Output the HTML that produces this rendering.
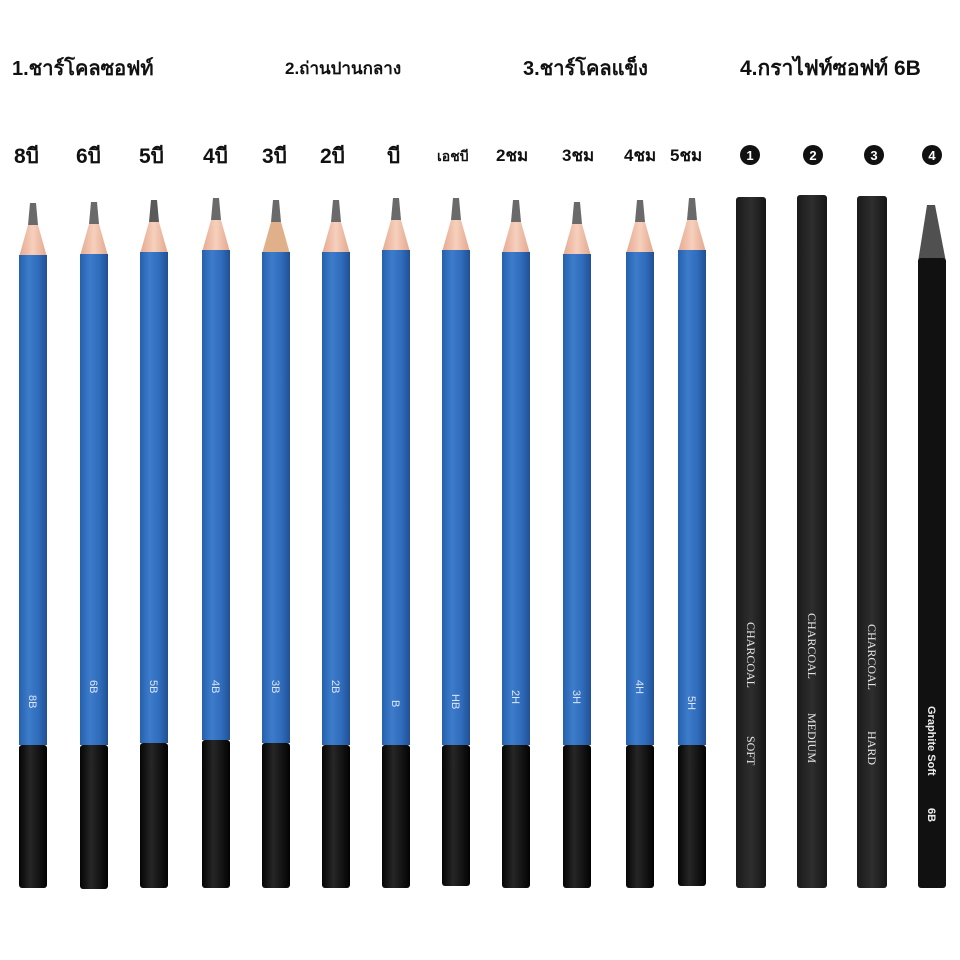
<!DOCTYPE html>
<html><head><meta charset="utf-8"><style>
html,body{margin:0;padding:0;background:#fff;}
svg{display:block}
.h{font-family:"Liberation Sans","Noto Sans CJK SC",sans-serif;font-weight:bold;fill:#111}
.lb{fill:#dde6f6}
</style></head><body>
<svg width="960" height="960" viewBox="0 0 960 960" xmlns="http://www.w3.org/2000/svg">
<defs>
<linearGradient id="blue" x1="0" x2="1" y1="0" y2="0">
<stop offset="0" stop-color="#2560ad"/><stop offset="0.35" stop-color="#3d7ccb"/><stop offset="0.7" stop-color="#2f6cbb"/><stop offset="1" stop-color="#214f92"/></linearGradient>
<linearGradient id="blk" x1="0" x2="1" y1="0" y2="0">
<stop offset="0" stop-color="#050505"/><stop offset="0.4" stop-color="#262626"/><stop offset="0.7" stop-color="#151515"/><stop offset="1" stop-color="#020202"/></linearGradient>
<linearGradient id="chr" x1="0" x2="1" y1="0" y2="0">
<stop offset="0" stop-color="#1a1a1a"/><stop offset="0.5" stop-color="#2e2e2e"/><stop offset="1" stop-color="#161616"/></linearGradient>
<linearGradient id="wood" x1="0" x2="1" y1="0" y2="0">
<stop offset="0" stop-color="#e6a88f"/><stop offset="0.5" stop-color="#f6d0bd"/><stop offset="1" stop-color="#e3a68c"/></linearGradient>
</defs>
<rect width="960" height="960" fill="#fff"/>
<text class="h" x="12" y="75" font-size="20">1.ชาร์โคลซอฟท์</text>
<text class="h" x="285" y="74" font-size="17" font-weight="normal">2.ถ่านปานกลาง</text>
<text class="h" x="523" y="75" font-size="20">3.ชาร์โคลแข็ง</text>
<text class="h" x="740" y="75" font-size="21">4.กราไฟท์ซอฟท์ 6B</text>
<g class="h" font-size="21">
<text x="14" y="163">8บี</text><text x="76" y="163">6บี</text><text x="139" y="163">5บี</text>
<text x="203" y="163">4บี</text><text x="262" y="163">3บี</text><text x="320" y="163">2บี</text>
<text x="387" y="163">บี</text>
<text x="437" y="161" font-size="14">เอชบี</text>
<text x="496" y="161" font-size="17">2ชม</text><text x="562" y="161" font-size="17">3ชม</text>
<text x="624" y="161" font-size="17">4ชม</text><text x="670" y="161" font-size="17">5ชม</text>
</g>
<g fill="#111"><circle cx="750" cy="155" r="10"/><circle cx="813" cy="155" r="10"/><circle cx="874" cy="155" r="10"/><circle cx="932" cy="155" r="10"/></g>
<g font-family="Liberation Sans,sans-serif" font-weight="bold" font-size="13" fill="#fff" text-anchor="middle">
<text x="750" y="160">1</text><text x="813" y="160">2</text><text x="874" y="160">3</text><text x="932" y="160">4</text></g>

<g font-family="Liberation Sans,sans-serif" font-size="11">
<g transform="translate(19,203)"><polygon points="11,0 17,0 19,22 9,22" fill="#6a6a6a"/><polygon points="9,22 19,22 28,54 0,54" fill="url(#wood)"/><rect x="0" y="52" width="28" height="490" fill="url(#blue)"/><rect x="0" y="542" width="28" height="143" rx="3" fill="url(#blk)"/><text class="lb" transform="translate(10,492) rotate(90)">8B</text></g>
<g transform="translate(80,202)"><polygon points="11,0 17,0 19,22 9,22" fill="#6a6a6a"/><polygon points="9,22 19,22 28,54 0,54" fill="url(#wood)"/><rect x="0" y="52" width="28" height="491" fill="url(#blue)"/><rect x="0" y="543" width="28" height="144" rx="3" fill="url(#blk)"/><text class="lb" transform="translate(10,478) rotate(90)">6B</text></g>
<g transform="translate(140,200)"><polygon points="11,0 17,0 19,22 9,22" fill="#5a5a5a"/><polygon points="9,22 19,22 28,54 0,54" fill="url(#wood)"/><rect x="0" y="52" width="28" height="491" fill="url(#blue)"/><rect x="0" y="543" width="28" height="145" rx="3" fill="url(#blk)"/><text class="lb" transform="translate(10,480) rotate(90)">5B</text></g>
<g transform="translate(202,198)"><polygon points="11,0 17,0 19,22 9,22" fill="#6a6a6a"/><polygon points="9,22 19,22 28,54 0,54" fill="url(#wood)"/><rect x="0" y="52" width="28" height="490" fill="url(#blue)"/><rect x="0" y="542" width="28" height="148" rx="3" fill="url(#blk)"/><text class="lb" transform="translate(10,482) rotate(90)">4B</text></g>
<g transform="translate(262,200)"><polygon points="11,0 17,0 19,22 9,22" fill="#6a6a6a"/><polygon points="9,22 19,22 28,54 0,54" fill="#e0b08a"/><rect x="0" y="52" width="28" height="491" fill="url(#blue)"/><rect x="0" y="543" width="28" height="145" rx="3" fill="url(#blk)"/><text class="lb" transform="translate(10,480) rotate(90)">3B</text></g>
<g transform="translate(322,200)"><polygon points="11,0 17,0 19,22 9,22" fill="#6a6a6a"/><polygon points="9,22 19,22 28,54 0,54" fill="url(#wood)"/><rect x="0" y="52" width="28" height="493" fill="url(#blue)"/><rect x="0" y="545" width="28" height="143" rx="3" fill="url(#blk)"/><text class="lb" transform="translate(10,480) rotate(90)">2B</text></g>
<g transform="translate(382,198)"><polygon points="11,0 17,0 19,22 9,22" fill="#6a6a6a"/><polygon points="9,22 19,22 28,54 0,54" fill="url(#wood)"/><rect x="0" y="52" width="28" height="495" fill="url(#blue)"/><rect x="0" y="547" width="28" height="143" rx="3" fill="url(#blk)"/><text class="lb" transform="translate(10,502) rotate(90)">B</text></g>
<g transform="translate(442,198)"><polygon points="11,0 17,0 19,22 9,22" fill="#6a6a6a"/><polygon points="9,22 19,22 28,54 0,54" fill="url(#wood)"/><rect x="0" y="52" width="28" height="495" fill="url(#blue)"/><rect x="0" y="547" width="28" height="141" rx="3" fill="url(#blk)"/><text class="lb" transform="translate(10,496) rotate(90)">HB</text></g>
<g transform="translate(502,200)"><polygon points="11,0 17,0 19,22 9,22" fill="#6a6a6a"/><polygon points="9,22 19,22 28,54 0,54" fill="url(#wood)"/><rect x="0" y="52" width="28" height="493" fill="url(#blue)"/><rect x="0" y="545" width="28" height="143" rx="3" fill="url(#blk)"/><text class="lb" transform="translate(10,490) rotate(90)">2H</text></g>
<g transform="translate(563,202)"><polygon points="11,0 17,0 19,22 9,22" fill="#6a6a6a"/><polygon points="9,22 19,22 28,54 0,54" fill="url(#wood)"/><rect x="0" y="52" width="28" height="491" fill="url(#blue)"/><rect x="0" y="543" width="28" height="143" rx="3" fill="url(#blk)"/><text class="lb" transform="translate(10,488) rotate(90)">3H</text></g>
<g transform="translate(626,200)"><polygon points="11,0 17,0 19,22 9,22" fill="#6a6a6a"/><polygon points="9,22 19,22 28,54 0,54" fill="url(#wood)"/><rect x="0" y="52" width="28" height="493" fill="url(#blue)"/><rect x="0" y="545" width="28" height="143" rx="3" fill="url(#blk)"/><text class="lb" transform="translate(10,480) rotate(90)">4H</text></g>
<g transform="translate(678,198)"><polygon points="11,0 17,0 19,22 9,22" fill="#6a6a6a"/><polygon points="9,22 19,22 28,54 0,54" fill="url(#wood)"/><rect x="0" y="52" width="28" height="495" fill="url(#blue)"/><rect x="0" y="547" width="28" height="141" rx="3" fill="url(#blk)"/><text class="lb" transform="translate(10,498) rotate(90)">5H</text></g>
</g>

<rect x="736" y="197" width="30" height="691" rx="3" fill="url(#chr)"/>
<rect x="797" y="195" width="30" height="693" rx="3" fill="url(#chr)"/>
<rect x="857" y="196" width="30" height="692" rx="3" fill="url(#chr)"/>
<polygon points="927,205 935,205 946,262 918,262" fill="#505050"/>
<rect x="918" y="258" width="28" height="630" rx="3" fill="#111"/>
<g font-family="Liberation Serif,serif" font-size="12" fill="#e6e6e6">
<text transform="translate(747,622) rotate(90)">CHARCOAL</text>
<text transform="translate(747,736) rotate(90)">SOFT</text>
<text transform="translate(808,613) rotate(90)">CHARCOAL</text>
<text transform="translate(808,713) rotate(90)">MEDIUM</text>
<text transform="translate(868,624) rotate(90)">CHARCOAL</text>
<text transform="translate(868,731) rotate(90)">HARD</text>
</g>
<g font-family="Liberation Sans,sans-serif" font-size="11" font-weight="bold" fill="#eee">
<text transform="translate(928,706) rotate(90)">Graphite  Soft</text>
<text transform="translate(928,808) rotate(90)">6B</text>
</g>
</svg>
</body></html>
